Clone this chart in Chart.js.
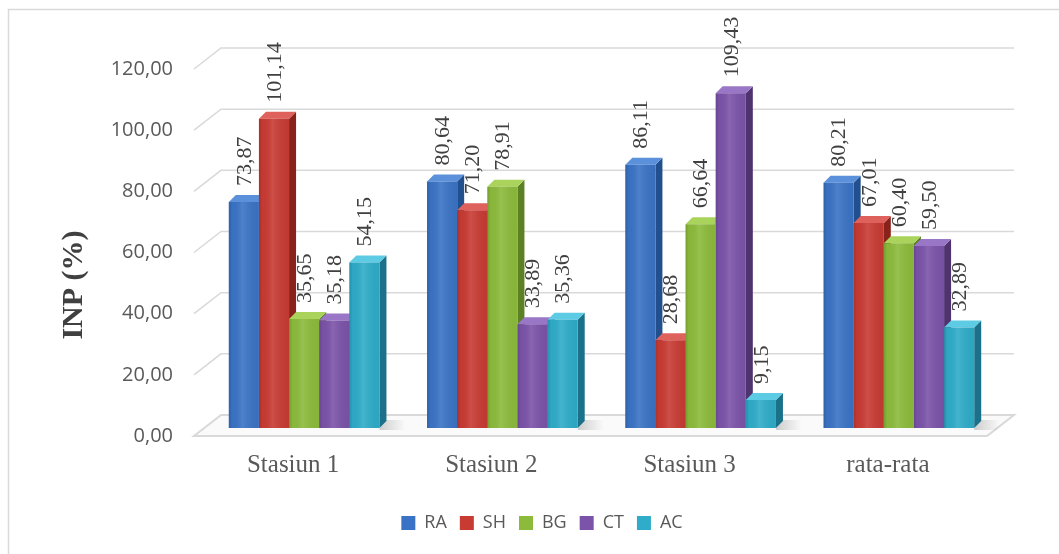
<!DOCTYPE html>
<html><head><meta charset="utf-8">
<script src="https://cdn.jsdelivr.net/npm/chart.js@4.4.1/dist/chart.umd.min.js"></script>
<style>html,body{margin:0;padding:0;background:#fff}#wrap{width:1059px;height:554px;position:relative}</style>
</head><body><div id="wrap"><canvas id="c"></canvas></div>
<script>
// ---- data ----
const categories = ['Stasiun 1', 'Stasiun 2', 'Stasiun 3', 'rata-rata'];
const seriesNames = ['RA', 'SH', 'BG', 'CT', 'AC'];
const RA = [73.87, 80.64, 86.11, 80.21];
const SH = [101.14, 71.20, 28.68, 67.01];
const BG = [35.65, 78.91, 66.64, 60.40];
const CT = [35.18, 33.89, 109.43, 59.50];
const AC = [54.15, 35.36, 9.15, 32.89];
const yTicks = [0, 20, 40, 60, 80, 100, 120];
const axisTitle = 'INP (%)';

// ---- styles ----
const seriesData = [RA, SH, BG, CT, AC];
const frontColors = ['#3a73c5', '#c83b33', '#8cbb3b', '#7b53a9', '#2eacc9'];
const sideColors  = ['#22508f', '#8a221c', '#5c8125', '#4f336f', '#1b7189'];
const topColors   = ['#5b90da', '#de625b', '#a9d35b', '#9a76c6', '#5dcbe3'];
const fmt = v => Number(v).toFixed(2).replace('.', ',');

const DX = 11, DY = -8;     // bars sit at mid depth
const FD = 27, FDY = -21;   // floor / wall depth
const BD = 7, BDY = -7;     // bar depth

const threeD = {
  id: 'threeD',
  beforeDraw(chart) {
    const ctx = chart.ctx;
    ctx.save();
    ctx.fillStyle = '#fff';
    ctx.fillRect(0, 0, chart.width, chart.height);
    ctx.strokeStyle = '#d9d9d9';
    ctx.lineWidth = 1.5;
    ctx.beginPath();
    ctx.moveTo(8.5, chart.height);
    ctx.lineTo(8.5, 9.5);
    ctx.lineTo(chart.width, 9.5);
    ctx.stroke();
    ctx.restore();
  },
  beforeDatasetsDraw(chart) {
    const ctx = chart.ctx, a = chart.chartArea, ys = chart.scales.y;
    ctx.save();
    const y0 = ys.getPixelForValue(0);
    ctx.beginPath();
    ctx.moveTo(a.left, y0);
    ctx.lineTo(a.right, y0);
    ctx.lineTo(a.right + FD, y0 + FDY);
    ctx.lineTo(a.left + FD, y0 + FDY);
    ctx.closePath();
    ctx.fillStyle = '#fafafa';
    ctx.fill();
    ctx.strokeStyle = '#d9d9d9';
    ctx.lineWidth = 2;
    ctx.stroke();
    ctx.lineWidth = 1.5;
    yTicks.forEach(v => {
      if (v === 0) return;
      const yy = ys.getPixelForValue(v);
      ctx.beginPath();
      ctx.moveTo(a.left, yy);
      ctx.lineTo(a.left + FD, yy + FDY);
      ctx.lineTo(a.right + FD, yy + FDY);
      ctx.stroke();
    });
    ctx.restore();

    ctx.save();
    ctx.translate(DX, DY);
    chart.data.datasets.forEach((ds, i) => {
      chart.getDatasetMeta(i).data.forEach(bar => {
        const p = bar.getProps(['x', 'base', 'width'], true);
        if (i === chart.data.datasets.length - 1) {
          const r = p.x + p.width / 2;
          const g = ctx.createLinearGradient(r, 0, r + 26, 0);
          g.addColorStop(0, 'rgba(0,0,0,0.18)');
          g.addColorStop(1, 'rgba(0,0,0,0)');
          ctx.fillStyle = g;
          ctx.beginPath();
          ctx.moveTo(r, p.base + 2);
          ctx.lineTo(r + 26, p.base + 2);
          ctx.lineTo(r + 26, p.base - 8);
          ctx.lineTo(r, p.base - 8);
          ctx.fill();
        }
      });
    });
    chart.data.datasets.forEach((ds, i) => {
      chart.getDatasetMeta(i).data.forEach(bar => {
        const p = bar.getProps(['x', 'y', 'base', 'width'], true);
        const l = p.x - p.width / 2, r = p.x + p.width / 2;
        ctx.fillStyle = sideColors[i];
        ctx.beginPath();
        ctx.moveTo(r, p.y);
        ctx.lineTo(r + BD, p.y + BDY);
        ctx.lineTo(r + BD, p.base + BDY);
        ctx.lineTo(r, p.base);
        ctx.closePath();
        ctx.fill();
        ctx.fillStyle = topColors[i];
        ctx.beginPath();
        ctx.moveTo(l, p.y);
        ctx.lineTo(r, p.y);
        ctx.lineTo(r + BD, p.y + BDY);
        ctx.lineTo(l + BD, p.y + BDY);
        ctx.closePath();
        ctx.fill();
      });
    });
  },
  afterDatasetsDraw(chart) {
    const ctx = chart.ctx;
    chart.data.datasets.forEach((ds, i) => {
      chart.getDatasetMeta(i).data.forEach((bar, j) => {
        const p = bar.getProps(['x', 'y', 'base', 'width'], true);
        const l = p.x - p.width / 2, r = p.x + p.width / 2;
        const g = ctx.createLinearGradient(l, 0, r, 0);
        g.addColorStop(0, 'rgba(0,0,0,0.16)');
        g.addColorStop(0.12, 'rgba(0,0,0,0.02)');
        g.addColorStop(0.45, 'rgba(255,255,255,0.10)');
        g.addColorStop(1, 'rgba(0,0,0,0.04)');
        ctx.fillStyle = g;
        ctx.fillRect(l, p.y, p.width, p.base - p.y);
        ctx.save();
        ctx.translate(p.x + 1, p.y - 16);
        ctx.rotate(-Math.PI / 2);
        ctx.font = '22px "Liberation Serif"';
        ctx.fillStyle = '#404040';
        ctx.textAlign = 'left';
        ctx.textBaseline = 'middle';
        ctx.fillText(fmt(ds.data[j]), 0, 0);
        ctx.restore();
      });
    });
    ctx.restore();
  },
  afterDraw(chart) {
    const ctx = chart.ctx;
    ctx.save();
    ctx.translate(74, 285);
    ctx.rotate(-Math.PI / 2);
    ctx.font = 'bold 30px "Liberation Serif"';
    ctx.fillStyle = '#404040';
    ctx.textAlign = 'center';
    ctx.textBaseline = 'middle';
    ctx.fillText(axisTitle, 0, 0);
    ctx.restore();
  }
};

new Chart(document.getElementById('c'), {
  type: 'bar',
  data: {
    labels: categories,
    datasets: seriesNames.map((n, i) => ({
      label: n,
      data: seriesData[i],
      backgroundColor: frontColors[i],
      borderWidth: 0,
      categoryPercentage: 0.76,
      barPercentage: 1.0,
      clip: false
    }))
  },
  options: {
    responsive: true,
    maintainAspectRatio: false,
    animation: false,
    devicePixelRatio: 1,
    layout: { padding: { left: 97, right: 72, top: 69, bottom: 12 } },
    plugins: {
      legend: {
        position: 'bottom',
        labels: { boxWidth: 14, boxHeight: 14, padding: 13, color: '#595959', font: { family: 'Open Sans', size: 18 } }
      },
      tooltip: { enabled: false }
    },
    scales: {
      x: {
        grid: { display: false, drawTicks: false },
        border: { display: false },
        ticks: { color: '#595959', font: { family: 'Liberation Serif', size: 25 }, padding: 14 },
        afterFit(s) { s.height = 65; }
      },
      y: {
        min: 0, max: 120,
        grid: { display: false, drawTicks: false },
        border: { display: false },
        ticks: { stepSize: 20, padding: 21, color: '#595959', font: { family: 'Open Sans', size: 20 }, callback: v => fmt(v) },
        afterFit(s) { s.width = 97; }
      }
    }
  },
  plugins: [threeD]
});
</script>
</body></html>
